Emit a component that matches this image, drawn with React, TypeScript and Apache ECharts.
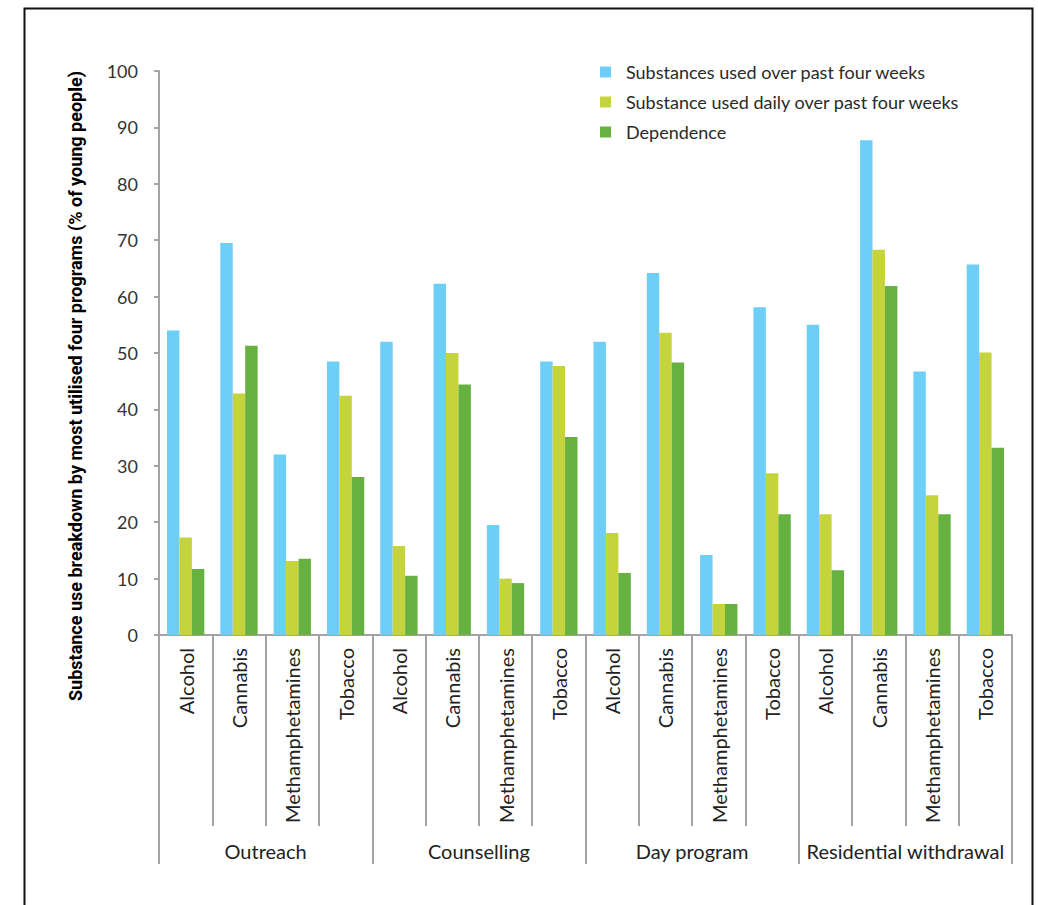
import React, { useEffect, useRef } from "react";
import * as echarts from "echarts";

const categories = [
  "Alcohol", "Cannabis", "Methamphetamines", "Tobacco",
  "Alcohol", "Cannabis", "Methamphetamines", "Tobacco",
  "Alcohol", "Cannabis", "Methamphetamines", "Tobacco",
  "Alcohol", "Cannabis", "Methamphetamines", "Tobacco",
];
const groups = ["Outreach", "Counselling", "Day program", "Residential withdrawal"];

const seriesNames = [
  "Substances used over past four weeks",
  "Substance used daily over past four weeks",
  "Dependence",
];
const usedPastFourWeeks = [54, 69.5, 32, 48.5, 52, 62.3, 19.5, 48.5, 52, 64.2, 14.2, 58.1, 55, 87.7, 46.7, 65.7];
const usedDaily = [17.3, 42.8, 13.1, 42.4, 15.8, 50, 10, 47.7, 18.1, 53.6, 5.5, 28.7, 21.4, 68.3, 24.8, 50.1];
const dependence = [11.7, 51.3, 13.5, 28, 10.5, 44.4, 9.2, 35.1, 11, 48.3, 5.5, 21.4, 11.5, 61.9, 21.4, 33.2];

const yTitle = "Substance use breakdown by most utilised four programs (% of young people)";
const colors = ["#6dcff6", "#c5d43c", "#66b13f"];
const FONT = "Lato, 'Open Sans', sans-serif";

export default function App() {
  const ref = useRef<HTMLDivElement>(null);
  useEffect(() => {
    if (!ref.current) return;
    const chart = echarts.init(ref.current, null, { renderer: "svg" });
    const axisGray = "#a3a3a3";
    chart.setOption({
      animation: false,
      backgroundColor: "#ffffff",
      textStyle: { fontFamily: FONT },
      color: colors,
      grid: { left: 159, right: 26, top: 71, bottom: 270, containLabel: false },
      legend: {
        orient: "vertical",
        left: 600,
        top: 63,
        padding: 0,
        itemWidth: 11,
        itemHeight: 11,
        itemGap: 12,
        icon: "rect",
        textStyle: { fontSize: 18, color: "#2a2a2a", fontFamily: FONT, padding: [0, 0, 0, 10], lineHeight: 18 },
        data: seriesNames,
      },
      xAxis: [
        {
          type: "category",
          data: categories,
          position: "bottom",
          axisLine: { show: true, lineStyle: { color: axisGray, width: 2 } },
          axisTick: { show: true, length: 191, interval: 0, lineStyle: { color: axisGray, width: 2 } },
          axisLabel: { interval: 0, rotate: 90, margin: 13, fontSize: 20, color: "#222", fontFamily: FONT },
          splitLine: { show: false },
        },
        {
          type: "category",
          data: groups,
          position: "bottom",
          axisLine: { show: false },
          axisTick: { show: true, length: 229, interval: 0, lineStyle: { color: axisGray, width: 2 } },
          axisLabel: { interval: 0, margin: 206, fontSize: 20, color: "#222", fontFamily: FONT },
          splitLine: { show: false },
        },
      ],
      yAxis: {
        type: "value",
        min: 0,
        max: 100,
        interval: 10,
        axisLine: { show: true, lineStyle: { color: axisGray, width: 2 } },
        axisTick: { show: true, length: 5, lineStyle: { color: axisGray, width: 2 } },
        axisLabel: { margin: 21, fontSize: 18, color: "#333", fontFamily: FONT },
        splitLine: { show: false },
      },
      graphic: [
        {
          type: "rect",
          left: 22,
          top: 6,
          shape: { width: 1008, height: 920 },
          style: { fill: "none", stroke: "#111", lineWidth: 2 },
          silent: true,
        },
        {
          type: "text",
          x: 75,
          y: 386,
          rotation: Math.PI / 2,
          style: {
            text: yTitle,
            font: "bold 18px Roboto, sans-serif",
            fill: "#000",
            align: "center",
            verticalAlign: "middle",
          },
        },
      ],
      series: [
        { name: seriesNames[0], type: "bar", data: usedPastFourWeeks, barGap: "0%", barCategoryGap: "30%", xAxisIndex: 0 },
        { name: seriesNames[1], type: "bar", data: usedDaily, barGap: "0%", barCategoryGap: "30%", xAxisIndex: 0 },
        { name: seriesNames[2], type: "bar", data: dependence, barGap: "0%", barCategoryGap: "30%", xAxisIndex: 0 },
      ],
    });
    return () => chart.dispose();
  }, []);
  return (
    <div
      ref={ref}
      style={{ position: "absolute", left: 0, top: 0, width: 1038, height: 905 }}
    />
  );
}
